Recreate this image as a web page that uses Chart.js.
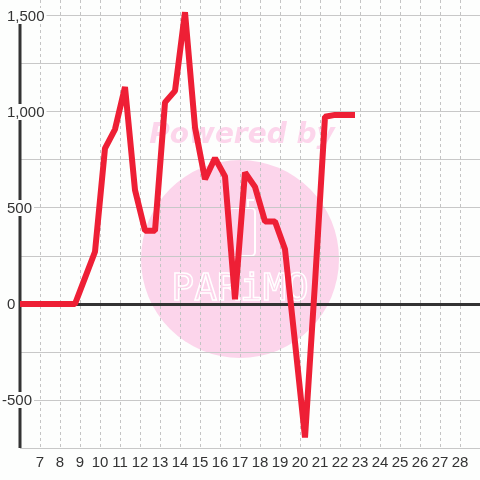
<!DOCTYPE html>
<html>
<head>
<meta charset="utf-8">
<script src="https://cdn.jsdelivr.net/npm/chart.js@4/dist/chart.umd.min.js"></script>
<style>
    html, body { margin: 0; padding: 0; background: #fdfefd; }
    #wrap { width: 480px; height: 480px; }
</style>
</head>
<body>
<div id="wrap"><canvas id="chart" width="480" height="480"></canvas></div>
<script>
// Data (x = day, half-day steps)
const xValues = [5.75, 6.25, 6.75, 7.25, 7.75, 8.25, 8.75, 9.25, 9.75, 10.25, 10.75, 11.25,
    11.75, 12.25, 12.75, 13.25, 13.75, 14.25, 14.75, 15.25, 15.75, 16.25, 16.75, 17.25,
    17.75, 18.25, 18.75, 19.25, 19.75, 20.25, 20.75, 21.25, 21.75, 22.25, 22.75];
const yValues = [0, 0, 0, 0, 0, 0, 0, 136, 272, 811, 910, 1130,
    594, 382, 382, 1050, 1110, 1520, 920, 650, 760, 665, 25, 685,
    610, 430, 430, 285, -200, -695, 110, 975, 985, 985, 985];

// Axis ticks
const xTickValues = [7, 8, 9, 10, 11, 12, 13, 14, 15, 16, 17, 18, 19, 20, 21, 22, 23, 24, 25, 26, 27, 28];
const yGridValues = [-750, -500, -250, 0, 250, 500, 750, 1000, 1250, 1500];
const yLabelValues = [-500, 0, 500, 1000, 1500];

const LABEL_FONT = "15px 'Liberation Sans', Arial, sans-serif";
const TEXT_COLOR = '#333333';
const BG_COLOR = '#fdfefd';

// Watermark behind the grid
const watermark = {
    id: 'watermark',
    beforeDraw(chart) {
        const ctx = chart.ctx;
        ctx.save();
        ctx.fillStyle = '#fcd5eb';
        ctx.beginPath();
        ctx.arc(240, 259, 99, 0, Math.PI * 2);
        ctx.fill();

        ctx.font = "italic bold 28px 'DejaVu Sans'";
        ctx.textAlign = 'center';
        ctx.textBaseline = 'alphabetic';
        ctx.fillText('Powered by', 242, 143);

        // glass icon
        ctx.strokeStyle = '#ffffff';
        ctx.lineWidth = 2;
        ctx.beginPath();
        ctx.roundRect(229, 208, 26, 48, 4);
        ctx.stroke();
        ctx.beginPath();
        ctx.moveTo(248, 208);
        ctx.lineTo(248, 200);
        ctx.lineTo(254, 200);
        ctx.stroke();

        ctx.font = "38px 'DejaVu Sans Mono'";
        ctx.lineWidth = 1.5;
        ctx.strokeText('PARiMO', 240, 300);
        ctx.restore();
    }
};

// Y axis line (under the data)
const yAxisLine = {
    id: 'yAxisLine',
    beforeDatasetsDraw(chart) {
        const ctx = chart.ctx;
        const y = chart.scales.y;
        const area = chart.chartArea;
        ctx.save();
        ctx.strokeStyle = TEXT_COLOR;
        ctx.lineWidth = 3;
        ctx.beginPath();
        ctx.moveTo(area.left, y.getPixelForValue(1500));
        ctx.lineTo(area.left, area.bottom);
        ctx.stroke();
        ctx.restore();
    }
};

// Y labels with backdrop (over the data)
const yLabels = {
    id: 'yLabels',
    afterDatasetsDraw(chart) {
        const ctx = chart.ctx;
        const y = chart.scales.y;
        ctx.save();
        ctx.font = LABEL_FONT;
        ctx.textBaseline = 'middle';
        ctx.textAlign = 'left';
        yLabelValues.forEach(v => {
            const text = v.toLocaleString('en-US');
            const py = y.getPixelForValue(v);
            const w = ctx.measureText(text).width;
            let px = 7;
            if (v < 0) px -= ctx.measureText('-').width;
            ctx.fillStyle = BG_COLOR;
            ctx.fillRect(px - 1, py - 8, w + 3, 16);
            ctx.fillStyle = TEXT_COLOR;
            ctx.fillText(text, px, py + 1);
        });
        ctx.restore();
    }
};

const ctx = document.getElementById('chart').getContext('2d');

const chart = new Chart(ctx, {
    type: 'line',
    data: {
        datasets: [{
            data: xValues.map((x, i) => ({ x: x, y: yValues[i] })),
            borderColor: '#ee1f35',
            borderWidth: 6,
            borderJoinStyle: 'bevel',
            pointRadius: 0,
            tension: 0,
            fill: false
        }]
    },
    options: {
        responsive: false,
        animation: false,
        layout: { padding: { left: 20, right: 0, top: 0, bottom: 2 } },
        plugins: {
            legend: { display: false },
            tooltip: { enabled: false }
        },
        scales: {
            x: {
                type: 'linear',
                min: 6,
                max: 29,
                afterBuildTicks: (scale) => {
                    scale.ticks = xTickValues.map(v => ({ value: v }));
                },
                grid: {
                    color: '#c4c4c4',
                    lineWidth: 1,
                    drawTicks: false
                },
                border: { display: false, dash: [3, 3] },
                ticks: {
                    color: TEXT_COLOR,
                    font: { family: "'Liberation Sans', Arial, sans-serif", size: 15 },
                    padding: 6,
                    maxRotation: 0,
                    autoSkip: false,
                    callback: (v) => String(v)
                }
            },
            y: {
                type: 'linear',
                min: -750,
                max: 1500 + 16 / 0.192,
                afterBuildTicks: (scale) => {
                    scale.ticks = yGridValues.map(v => ({ value: v }));
                },
                grid: {
                    color: (c) => c.tick && c.tick.value === 0 ? TEXT_COLOR : '#c8c8c8',
                    lineWidth: (c) => c.tick && c.tick.value === 0 ? 3 : 1,
                    drawTicks: false
                },
                border: { display: false },
                ticks: { display: false }
            }
        }
    },
    plugins: [watermark, yAxisLine, yLabels]
});
</script>
</body>
</html>
